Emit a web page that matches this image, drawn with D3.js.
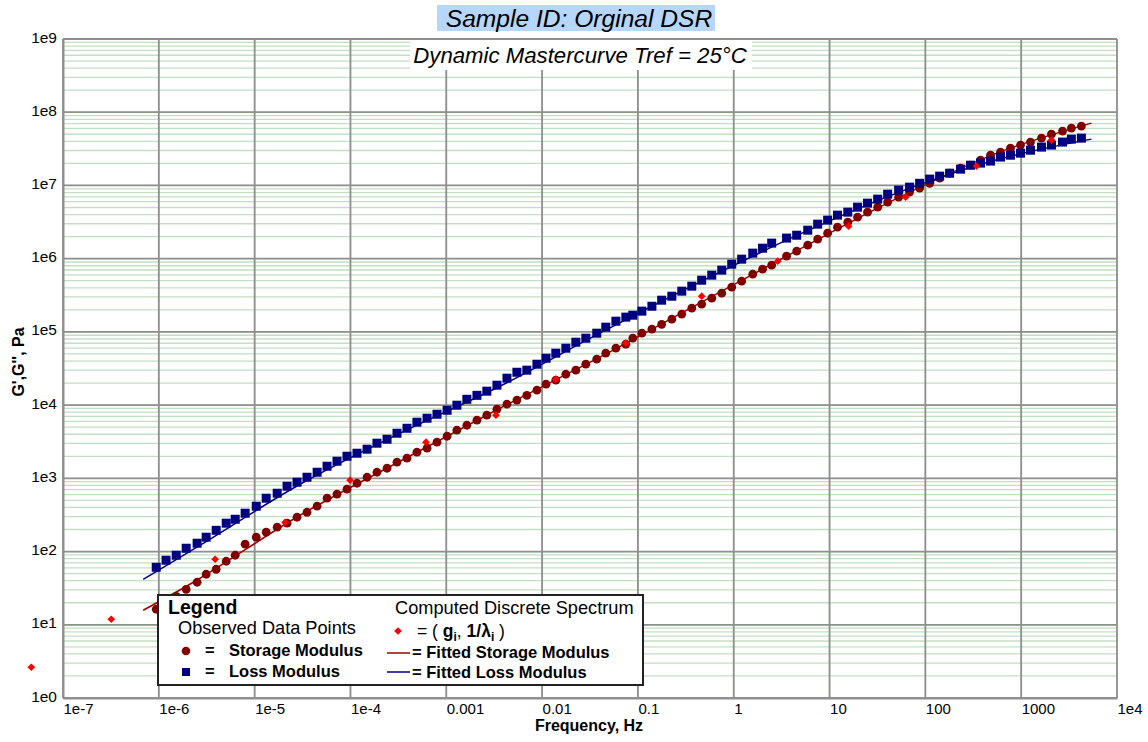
<!DOCTYPE html>
<html>
<head>
<meta charset="utf-8">
<script src="https://cdn.jsdelivr.net/npm/d3@7"></script>
<style>
  body { margin: 0; background: #fff; }
  text { font-family: "Liberation Sans", Arial, sans-serif; }
</style>
</head>
<body>
<svg id="chart"></svg>
<script>
// observed data: frequency (Hz), storage modulus G' and loss modulus G'' (Pa)
var freq = [9.4e-7, 1.19e-6, 1.52e-6, 1.93e-6, 2.51e-6, 3.12e-6, 3.97e-6, 5.05e-6, 6.27e-6, 7.96e-6,
  1.04e-5, 1.32e-5, 1.72e-5, 2.18e-5, 2.77e-5, 3.52e-5, 4.49e-5, 5.70e-5, 7.24e-5, 9.2e-5,
  1.17e-4, 1.49e-4, 1.89e-4, 2.41e-4, 3.06e-4, 3.89e-4, 4.94e-4, 6.30e-4, 8.0e-4, 1.02e-3,
  1.29e-3, 1.64e-3, 2.09e-3, 2.65e-3, 3.38e-3, 4.30e-3, 5.46e-3, 6.93e-3, 8.83e-3, 1.10e-2,
  1.39e-2, 1.77e-2, 2.25e-2, 2.86e-2, 3.72e-2, 4.62e-2, 5.89e-2, 7.48e-2, 8.85e-2, 0.110,
  0.140, 0.177, 0.226, 0.287, 0.365, 0.463, 0.590, 0.750, 0.953, 1.21,
  1.58, 2.00, 2.49, 3.56, 4.54, 5.92, 7.52, 9.55, 12.1, 15.5,
  19.6, 24.9, 31.8, 40.4, 52.6, 68.4, 87.1, 111, 141, 179,
  233, 296, 376, 479, 608, 773, 984, 1250, 1630, 2070,
  2700, 3340, 4250]

var storage = [16.3, 20.3, 24.5, 30.5, 38.1, 49.0, 57.3, 73.7, 89.0, 126,
  157, 184, 215, 244, 294, 344, 416, 535, 607, 710,
  857, 1035, 1211, 1374, 1660, 1883, 2274, 2578, 3114, 3759,
  4540, 5310, 6220, 7280, 8790, 1.03e4, 1.17e4, 1.36e4, 1.60e4, 1.93e4,
  2.19e4, 2.64e4, 3.0e4, 3.62e4, 4.24e4, 5.12e4, 5.99e4, 6.79e4, 8.2e4, 9.6e4,
  1.09e5, 1.27e5, 1.49e5, 1.75e5, 2.11e5, 2.39e5, 2.89e5, 3.38e5, 4.08e5, 4.93e5,
  6.14e5, 7.19e5, 8.15e5, 1.08e6, 1.27e6, 1.53e6, 1.85e6, 2.23e6, 2.69e6, 3.15e6,
  3.69e6, 4.32e6, 5.05e6, 5.92e6, 6.92e6, 8.11e6, 9.19e6, 1.07e7, 1.26e7, 1.47e7,
  1.72e7, 1.89e7, 2.22e7, 2.59e7, 2.85e7, 3.23e7, 3.56e7, 3.91e7, 4.43e7, 5.02e7,
  5.52e7, 6.07e7, 6.46e7]

var loss = [61.0, 76.1, 89.0, 111, 130, 157, 195, 244, 276, 334,
  416, 535, 626, 780, 885, 1035, 1211, 1463, 1713, 2004,
  2203, 2500, 3019, 3420, 4130, 4830, 5840, 6620, 7510, 8510,
  9970, 1.20e4, 1.36e4, 1.55e4, 1.87e4, 2.33e4, 2.81e4, 3.0e4, 3.62e4, 4.37e4,
  5.12e4, 5.99e4, 7.23e4, 8.2e4, 9.6e4, 1.16e5, 1.40e5, 1.59e5, 1.69e5, 1.92e5,
  2.24e5, 2.71e5, 3.07e5, 3.60e5, 4.21e5, 5.08e5, 5.95e5, 6.97e5, 8.41e5, 9.85e5,
  1.19e6, 1.39e6, 1.63e6, 1.91e6, 2.09e6, 2.45e6, 2.96e6, 3.36e6, 3.93e6, 4.32e6,
  5.05e6, 5.73e6, 6.50e6, 7.60e6, 8.63e6, 9.48e6, 1.07e7, 1.22e7, 1.34e7, 1.47e7,
  1.67e7, 1.89e7, 2.02e7, 2.15e7, 2.44e7, 2.59e7, 2.76e7, 3.03e7, 3.34e7, 3.56e7,
  3.91e7, 4.29e7, 4.43e7]

// computed discrete spectrum (g_i, 1/lambda_i)
var spectrumFreq = [4.67e-8, 3.19e-7, 3.87e-6, 2.08e-5, 9.9e-5, 6.14e-4, 3.30e-3, 1.39e-2, 7.48e-2, 0.463, 2.88, 15.8, 62.2, 342, 2070]
var spectrumG = [2.63, 11.9, 78.5, 251, 942, 3114, 7280, 2.26e4, 7.01e4, 3.07e5, 9.25e5, 2.78e6, 6.92e6, 1.84e7, 4.16e7]

// fitted curves
var fitFreq = [6.87e-7, 2.70e-6, 2.98e-5, 3.29e-4, 3.63e-3, 4.01e-2, 0.442, 4.88, 53.8, 594, 5410]
var fitStorage = [15.8, 43.2, 313, 1713, 9070, 4.51e4, 2.47e5, 1.35e6, 6.92e6, 2.85e7, 7.10e7]
var fitLoss = [41.8, 122, 830, 4130, 1.81e4, 9.6e4, 4.78e5, 2.16e6, 8.11e6, 2.29e7, 4.29e7]

var xTickLabels = ["1e-7", "1e-6", "1e-5", "1e-4", "0.001", "0.01", "0.1", "1", "10", "100", "1000", "1e4"]
var yTickLabels = ["1e0", "1e1", "1e2", "1e3", "1e4", "1e5", "1e6", "1e7", "1e8", "1e9"]

var screen = {width: 1148, height: 742}
var margins = {top: 39, left: 63, right: 31, bottom: 44}
var width = screen.width - margins.left - margins.right
var height = screen.height - margins.top - margins.bottom

var svg = d3.select("#chart")
  .attr("width", screen.width)
  .attr("height", screen.height)

var xScale = d3.scaleLog().domain([1e-7, 1e4]).range([margins.left, margins.left + width])
var yScale = d3.scaleLog().domain([1, 1e9]).range([margins.top + height, margins.top])

var isDecade = function(d){ return Math.abs(Math.log10(d) - Math.round(Math.log10(d))) < 1e-9 }
var majorX = xScale.ticks().filter(isDecade)
var majorY = yScale.ticks().filter(isDecade)

// minor grid (green)
var grid = svg.append("g")
grid.selectAll(".vminor").data(xScale.ticks()).enter().append("line")
  .attr("x1", function(d){ return xScale(d) }).attr("x2", function(d){ return xScale(d) })
  .attr("y1", margins.top).attr("y2", margins.top + height)
  .attr("stroke", "#c3dfc3").attr("stroke-width", 1.3)
grid.selectAll(".hminor").data(yScale.ticks()).enter().append("line")
  .attr("y1", function(d){ return yScale(d) }).attr("y2", function(d){ return yScale(d) })
  .attr("x1", margins.left).attr("x2", margins.left + width)
  .attr("stroke", "#c3dfc3").attr("stroke-width", 1.3)

// major grid (gray)
grid.selectAll(".vmajor").data(majorX).enter().append("line")
  .attr("x1", function(d){ return xScale(d) }).attr("x2", function(d){ return xScale(d) })
  .attr("y1", margins.top).attr("y2", margins.top + height)
  .attr("stroke", "#8f8f8f").attr("stroke-width", 1.8)
grid.selectAll(".hmajor").data(majorY).enter().append("line")
  .attr("y1", function(d){ return yScale(d) }).attr("y2", function(d){ return yScale(d) })
  .attr("x1", margins.left).attr("x2", margins.left + width)
  .attr("stroke", "#8f8f8f").attr("stroke-width", 1.8)

// axes (labels only)
var xAxis = d3.axisBottom(xScale)
  .tickValues(majorX)
  .tickSize(0)
  .tickFormat(function(d, i){ return xTickLabels[i] })
svg.append("g").classed("xAxis", true)
  .attr("transform", "translate(0," + (margins.top + height) + ")")
  .call(xAxis)
  .call(function(g){ g.select(".domain").attr("stroke", "#8f8f8f").attr("stroke-width", 2) })
  .selectAll("text")
  .attr("text-anchor", "start")
  .attr("y", 5)
  .attr("fill", "#000")
  .style("font-size", "15px")

var yAxis = d3.axisLeft(yScale)
  .tickValues(majorY)
  .tickSize(0)
  .tickFormat(function(d, i){ return yTickLabels[i] })
svg.append("g").classed("yAxis", true)
  .attr("transform", "translate(" + margins.left + ",0)")
  .call(yAxis)
  .call(function(g){ g.select(".domain").attr("stroke", "#8f8f8f").attr("stroke-width", 2) })
  .selectAll("text")
  .attr("x", -6)
  .attr("dy", "0.2em")
  .attr("fill", "#000")
  .style("font-size", "15.5px")

// subtitle box and titles
svg.append("rect").attr("x", 410).attr("y", margins.top + 1).attr("width", 342).attr("height", 30).attr("fill", "#fff")
svg.append("text").attr("x", 580).attr("y", 63).attr("text-anchor", "middle")
  .style("font-size", "22.2px").style("font-style", "italic")
  .text("Dynamic Mastercurve Tref = 25°C")

svg.append("rect").attr("x", 437).attr("y", 5).attr("width", 278).attr("height", 26).attr("fill", "#b7d6fb")
svg.append("text").attr("x", 579).attr("y", 27).attr("text-anchor", "middle")
  .style("font-size", "24.6px").style("font-style", "italic")
  .text("Sample ID: Orginal DSR")

svg.append("text")
  .attr("transform", "translate(24," + 362 + ") rotate(-90)")
  .attr("text-anchor", "middle")
  .style("font-size", "16px").style("font-weight", "bold")
  .text("G',G'', Pa")

svg.append("text").attr("x", 589).attr("y", 731).attr("text-anchor", "middle")
  .style("font-size", "16px").style("font-weight", "bold")
  .text("Frequency, Hz")

// fitted lines
var line = d3.line().curve(d3.curveCatmullRom)
  .x(function(d){ return xScale(d[0]) })
  .y(function(d){ return yScale(d[1]) })

svg.append("path").datum(d3.zip(fitFreq, fitStorage))
  .attr("d", line).attr("fill", "none").attr("stroke", "#a00000").attr("stroke-width", 1.5)
svg.append("path").datum(d3.zip(fitFreq, fitLoss))
  .attr("d", line).attr("fill", "none").attr("stroke", "#000080").attr("stroke-width", 1.5)

// observed points
svg.selectAll(".storage").data(d3.zip(freq, storage)).enter().append("circle")
  .attr("cx", function(d){ return xScale(d[0]) })
  .attr("cy", function(d){ return yScale(d[1]) })
  .attr("r", 4.4)
  .attr("fill", "#800000")

svg.selectAll(".loss").data(d3.zip(freq, loss)).enter().append("rect")
  .attr("x", function(d){ return xScale(d[0]) - 4.5 })
  .attr("y", function(d){ return yScale(d[1]) - 4.5 })
  .attr("width", 9).attr("height", 9)
  .attr("fill", "#000080")

var diamond = d3.symbol().type(d3.symbolDiamond2).size(38)
svg.selectAll(".spectrum").data(d3.zip(spectrumFreq, spectrumG)).enter().append("path")
  .attr("d", diamond)
  .attr("transform", function(d){ return "translate(" + xScale(d[0]) + "," + yScale(d[1]) + ")" })
  .attr("fill", "#ff0000")

// legend
var legend = svg.append("g").attr("transform", "translate(158,595)")
legend.append("rect").attr("width", 485).attr("height", 90)
  .attr("fill", "#fff").attr("stroke", "#222").attr("stroke-width", 2)
legend.append("text").attr("x", 10).attr("y", 19).style("font-size", "19.5px").style("font-weight", "bold").text("Legend")
legend.append("text").attr("x", 20).attr("y", 39).style("font-size", "18.2px").text("Observed Data Points")
legend.append("circle").attr("cx", 28).attr("cy", 56).attr("r", 4.3).attr("fill", "#800000")
legend.append("text").attr("x", 47).attr("y", 61).style("font-size", "16.5px").style("font-weight", "bold").text("=")
legend.append("text").attr("x", 71).attr("y", 61).style("font-size", "16.5px").style("font-weight", "bold").text("Storage Modulus")
legend.append("rect").attr("x", 24).attr("y", 73).attr("width", 8).attr("height", 8).attr("fill", "#000080")
legend.append("text").attr("x", 47).attr("y", 82).style("font-size", "16.5px").style("font-weight", "bold").text("=")
legend.append("text").attr("x", 71).attr("y", 82).style("font-size", "16.5px").style("font-weight", "bold").text("Loss Modulus")

legend.append("text").attr("x", 237).attr("y", 19).style("font-size", "18.2px").text("Computed Discrete Spectrum")
legend.append("path").attr("d", diamond).attr("transform", "translate(240,36)").attr("fill", "#ff0000")
var spec = legend.append("text").attr("x", 259).attr("y", 42).style("font-size", "17.5px")
spec.append("tspan").text("= ( ")
spec.append("tspan").style("font-weight", "bold").text("g")
spec.append("tspan").style("font-weight", "bold").style("font-size", "12px").attr("dy", 4).text("i")
spec.append("tspan").attr("dy", -4).text(", ")
spec.append("tspan").style("font-weight", "bold").text("1/λ")
spec.append("tspan").style("font-weight", "bold").style("font-size", "12px").attr("dy", 4).text("i")
spec.append("tspan").attr("dy", -4).text(" )")

legend.append("line").attr("x1", 229).attr("x2", 252).attr("y1", 58).attr("y2", 58).attr("stroke", "#a00000").attr("stroke-width", 1.5)
legend.append("text").attr("x", 254).attr("y", 63).style("font-size", "16.5px").style("font-weight", "bold").text("= Fitted  Storage Modulus")
legend.append("line").attr("x1", 229).attr("x2", 252).attr("y1", 77).attr("y2", 77).attr("stroke", "#000080").attr("stroke-width", 1.5)
legend.append("text").attr("x", 254).attr("y", 83).style("font-size", "16.5px").style("font-weight", "bold").text("= Fitted  Loss Modulus")
</script>
</body>
</html>
